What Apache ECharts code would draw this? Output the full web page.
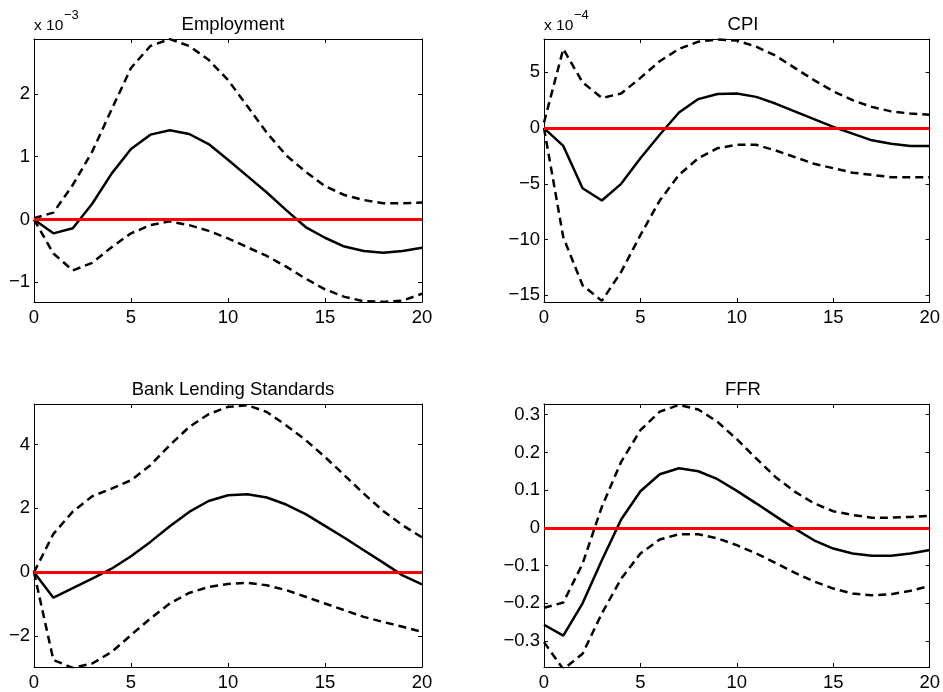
<!DOCTYPE html>
<html>
<head>
<meta charset="utf-8">
<script src="https://cdn.jsdelivr.net/npm/echarts@6/dist/echarts.min.js"></script>
<style>
html,body{margin:0;padding:0;background:#fff;}
#c{width:943px;height:692px;}
</style>
</head>
<body>
<div id="c"></div>
<script>
// Horizons (x axis)
const horizons = [0,1,2,3,4,5,6,7,8,9,10,11,12,13,14,15,16,17,18,19,20];
const xTicks = [0,5,10,15,20];

// Employment (units of 1e-3)
const empMid = [0,-0.22,-0.14,0.25,0.73,1.12,1.35,1.42,1.36,1.20,0.95,0.69,0.43,0.15,-0.12,-0.29,-0.43,-0.50,-0.53,-0.50,-0.45];
const empUp  = [0.02,0.11,0.55,1.08,1.75,2.41,2.76,2.87,2.76,2.54,2.22,1.80,1.38,1.02,0.76,0.53,0.39,0.31,0.26,0.26,0.27];
const empLo  = [0,-0.54,-0.81,-0.69,-0.44,-0.22,-0.09,-0.03,-0.09,-0.18,-0.30,-0.44,-0.58,-0.75,-0.94,-1.11,-1.23,-1.30,-1.31,-1.29,-1.18];
const empTicks = [-1,0,1,2];

// CPI (units of 1e-4)
const cpiMid = [0,-1.6,-5.4,-6.5,-5.0,-2.7,-0.6,1.4,2.6,3.05,3.1,2.8,2.2,1.5,0.8,0.1,-0.5,-1.1,-1.4,-1.6,-1.6];
const cpiUp  = [0.5,7.1,4.1,2.7,3.1,4.5,6.0,7.1,7.75,7.95,7.85,7.3,6.5,5.4,4.3,3.3,2.5,1.9,1.5,1.3,1.2];
const cpiLo  = [0,-9.8,-14.1,-15.5,-12.9,-9.6,-6.5,-4.2,-2.7,-1.8,-1.5,-1.5,-2.0,-2.6,-3.2,-3.6,-4.0,-4.2,-4.4,-4.4,-4.4];
const cpiTicks = [-15,-10,-5,0,5];

// Bank Lending Standards
const blsMid = [0,-0.8,-0.5,-0.2,0.11,0.5,0.95,1.44,1.89,2.23,2.41,2.44,2.34,2.12,1.82,1.45,1.08,0.69,0.3,-0.1,-0.38];
const blsUp  = [0,1.2,1.9,2.38,2.62,2.88,3.35,3.98,4.55,4.95,5.18,5.23,5.02,4.6,4.14,3.61,3.04,2.46,1.92,1.47,1.09];
const blsLo  = [0,-2.75,-3.0,-2.86,-2.5,-1.97,-1.45,-0.98,-0.65,-0.46,-0.37,-0.33,-0.41,-0.56,-0.77,-0.98,-1.19,-1.40,-1.56,-1.71,-1.87];
const blsTicks = [-2,0,2,4];

// FFR
const ffrMid = [-0.257,-0.286,-0.20,-0.086,0.022,0.097,0.142,0.158,0.150,0.129,0.098,0.065,0.031,-0.002,-0.033,-0.055,-0.068,-0.074,-0.074,-0.068,-0.059];
const ffrUp  = [-0.212,-0.198,-0.095,0.056,0.175,0.259,0.308,0.326,0.314,0.281,0.235,0.184,0.135,0.096,0.065,0.044,0.034,0.027,0.027,0.029,0.032];
const ffrLo  = [-0.303,-0.375,-0.334,-0.227,-0.135,-0.068,-0.031,-0.017,-0.017,-0.028,-0.046,-0.068,-0.093,-0.119,-0.142,-0.161,-0.174,-0.179,-0.176,-0.167,-0.154];
const ffrTicks = [-0.3,-0.2,-0.1,0,0.1,0.2,0.3];

const titles = ['Employment','CPI','Bank Lending Standards','FFR'];
const scaleLabels = ['x 10', '\u22123', 'x 10', '\u22124'];

const FONT = 'Liberation Sans';
const panels = [
  {title:titles[0], mid:empMid, up:empUp, lo:empLo, ticks:empTicks, min:-1.312, max:2.871, left:34, top:39},
  {title:titles[1], mid:cpiMid, up:cpiUp, lo:cpiLo, ticks:cpiTicks, min:-15.6, max:7.99, left:544, top:39},
  {title:titles[2], mid:blsMid, up:blsUp, lo:blsLo, ticks:blsTicks, min:-2.97, max:5.27, left:34, top:404},
  {title:titles[3], mid:ffrMid, up:ffrUp, lo:ffrLo, ticks:ffrTicks, min:-0.369, max:0.3284, left:544, top:404}
];
const W = 388, H = 263;

const fmt = v => String(v).replace('-', '\u2212');
const grids = [], xAxes = [], yAxes = [], series = [], titleComps = [];
const axisLine = {show:true, onZero:false, lineStyle:{color:'#000', width:1}};

panels.forEach((p, i) => {
  grids.push({left:p.left, top:p.top, width:W, height:H, containLabel:false});
  xAxes.push({type:'value', gridIndex:i, position:'bottom', min:0, max:20, interval:5,
    axisLine:axisLine, axisTick:{show:true, inside:true, length:4, lineStyle:{color:'#000'}},
    axisLabel:{show:true, margin:6, color:'#000', fontSize:18.5, fontFamily:FONT,
      customValues:xTicks},
    splitLine:{show:false}});
  xAxes.push({type:'value', gridIndex:i, position:'top', min:0, max:20, interval:5,
    axisLine:axisLine, axisTick:{show:true, inside:true, length:4, lineStyle:{color:'#000'}},
    axisLabel:{show:false}, splitLine:{show:false}});
  yAxes.push({type:'value', gridIndex:i, position:'left', min:p.min, max:p.max,
    axisLine:axisLine,
    axisTick:{show:true, inside:true, length:4, lineStyle:{color:'#000'}, customValues:p.ticks},
    axisLabel:{show:true, margin:4, color:'#000', fontSize:18.5, fontFamily:FONT,
      customValues:p.ticks, formatter:fmt},
    splitLine:{show:false}});
  yAxes.push({type:'value', gridIndex:i, position:'right', min:p.min, max:p.max,
    axisLine:axisLine,
    axisTick:{show:true, inside:true, length:4, lineStyle:{color:'#000'}, customValues:p.ticks},
    axisLabel:{show:false}, splitLine:{show:false}});

  const xi = i*2, yi = i*2;
  const mk = (arr, type, name) => ({
    name:name, type:'line', xAxisIndex:xi, yAxisIndex:yi,
    data: horizons.map((h,k)=>[h, arr[k]]),
    symbol:'none', silent:true, clip:true, animation:false,
    lineStyle:{color:'#000', width:2.5, type:type, cap:'butt'}
  });
  series.push(mk(p.up, [8,5], p.title+' upper'));
  series.push(mk(p.lo, [8,5], p.title+' lower'));
  series.push(mk(p.mid, 'solid', p.title));
  series.push({type:'line', xAxisIndex:xi, yAxisIndex:yi, data:[], symbol:'none', silent:true, animation:false,
    markLine:{silent:true, symbol:'none', animation:false, label:{show:false},
      lineStyle:{color:'#ff0000', width:3, type:'solid'},
      data:[{yAxis:0}]}});

  titleComps.push({text:p.title, left:p.left + W/2, top:p.top - 29, textAlign:'center',
    textStyle:{fontSize:18.5, fontWeight:'normal', color:'#000', fontFamily:FONT}});
});

const chart = echarts.init(document.getElementById('c'), null, {renderer:'canvas'});
chart.setOption({
  backgroundColor:'#fff',
  animation:false,
  title:titleComps,
  grid:grids, xAxis:xAxes, yAxis:yAxes, series:series,
  graphic:[
    {type:'text', x:34, y:18, style:{text:scaleLabels[0], font:'15.5px "Liberation Sans"', fill:'#000', verticalAlign:'top'}},
    {type:'text', x:64, y:8.5, style:{text:scaleLabels[1], font:'13px "Liberation Sans"', fill:'#000', verticalAlign:'top'}},
    {type:'text', x:544, y:18, style:{text:scaleLabels[2], font:'15.5px "Liberation Sans"', fill:'#000', verticalAlign:'top'}},
    {type:'text', x:574, y:8.5, style:{text:scaleLabels[3], font:'13px "Liberation Sans"', fill:'#000', verticalAlign:'top'}}
  ]
});
</script>
</body>
</html>
